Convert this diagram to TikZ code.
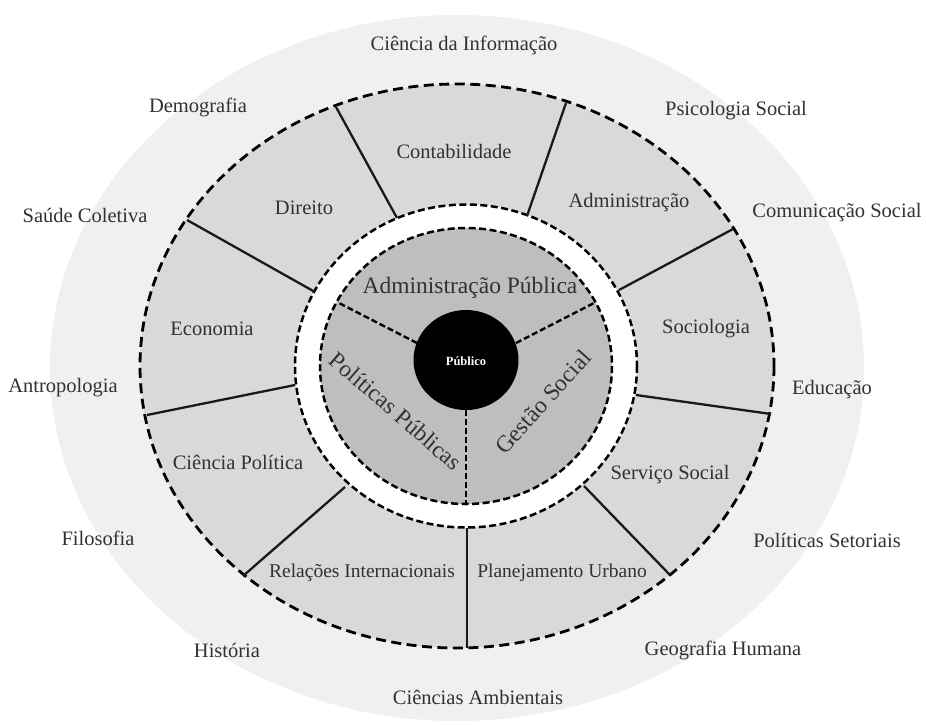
\documentclass[tikz,border=0pt]{standalone}
\usepackage{fontspec}
\setmainfont{Liberation Serif}
\definecolor{outerbg}{RGB}{240,240,240}
\definecolor{sectorbg}{RGB}{217,217,217}
\definecolor{innerbg}{RGB}{190,190,190}
\definecolor{txt}{RGB}{50,50,50}
\begin{document}
\begin{tikzpicture}[x=1pt,y=-1pt,
  bigdash/.style={line width=2.8pt, dash pattern=on 10pt off 5.5pt},
  ringdash/.style={line width=2.5pt, dash pattern=on 7pt off 3.5pt},
  raydash/.style={line width=2.4pt, dash pattern=on 6pt off 3pt},
  divider/.style={line width=2.3pt, black!90},
  outerlbl/.style={text=txt, font=\fontsize{20.5}{24}\selectfont, inner sep=0pt},
  seclbl/.style={text=txt, font=\fontsize{20.5}{24}\selectfont, inner sep=0pt},
  smallsec/.style={text=txt, font=\fontsize{19.5}{23}\selectfont, inner sep=0pt},
  innerlbl/.style={text=txt, font=\fontsize{23.5}{27}\selectfont, inner sep=0pt}]
\useasboundingbox (0,0) rectangle (926,724);
\fill[white] (0,0) rectangle (926,724);
% outer light ellipse
\fill[outerbg] (457,368) ellipse [x radius=407, y radius=353];
% dashed sector ellipse
\filldraw[fill=sectorbg, bigdash] (457,366) ellipse [x radius=317, y radius=282];
% white ring
\filldraw[fill=white, ringdash] (466,366) ellipse [x radius=171, y radius=161.5];
% inner gray disc
\filldraw[fill=innerbg, ringdash] (466,366) ellipse [x radius=146, y radius=138];

% divider endpoints
\coordinate (d1i) at (397,218); \coordinate (d1o) at (336,107);
\coordinate (d2i) at (527,216); \coordinate (d2o) at (566,103);
\coordinate (d3i) at (619,290); \coordinate (d3o) at (733,229);
\coordinate (d4i) at (636,395); \coordinate (d4o) at (771,414);
\coordinate (d5i) at (584,486); \coordinate (d5o) at (670,575);
\coordinate (d6i) at (467,528); \coordinate (d6o) at (467,648);
\coordinate (d7i) at (345,487); \coordinate (d7o) at (243,576);
\coordinate (d8i) at (295,385); \coordinate (d8o) at (147,415);
\coordinate (d9i) at (315,292); \coordinate (d9o) at (187,220);
\foreach \k in {1,...,9}{\draw[divider] (d\k i) -- (d\k o);}

% inner rays
\coordinate (r1i) at (417,343); \coordinate (r1o) at (337,302);
\coordinate (r2i) at (516,343); \coordinate (r2o) at (594,303);
\coordinate (r3i) at (466,410); \coordinate (r3o) at (466,504);
\foreach \k in {1,2,3}{\draw[raydash] (r\k i) -- (r\k o);}

% center
\fill[black] (466,360) ellipse [x radius=52.5, y radius=50];
\node[text=white, font=\fontsize{12.5}{14}\selectfont\bfseries, inner sep=0pt] (pub) at (466,361) {Público};

% inner labels
\node[innerlbl] (admp) at (470,288) {Administração Pública};
\node[innerlbl, rotate=-41] (polp) at (396,411) {Políticas Públicas};
\node[innerlbl, rotate=48] (gest) at (543,402) {Gestão Social};

% sector labels
\node[seclbl] (cont) at (454,151) {Contabilidade};
\node[seclbl] (dir) at (304,208) {Direito};
\node[seclbl] (adm) at (629,203) {Administração};
\node[seclbl] (eco) at (212,329) {Economia};
\node[seclbl] (soc) at (706,329) {Sociologia};
\node[seclbl] (cpol) at (238,462) {Ciência Política};
\node[seclbl] (serv) at (670,475) {Serviço Social};
\node[smallsec] (relint) at (362,573) {Relações Internacionais};
\node[smallsec] (plan) at (562,573) {Planejamento Urbano};

% outer labels
\node[outerlbl] (cinf) at (464,45) {Ciência da Informação};
\node[outerlbl] (demo) at (198,107) {Demografia};
\node[outerlbl] (psic) at (736,111) {Psicologia Social};
\node[outerlbl] (saude) at (85,215) {Saúde Coletiva};
\node[outerlbl] (com) at (837,213) {Comunicação Social};
\node[outerlbl] (antr) at (63,388) {Antropologia};
\node[outerlbl] (edu) at (832,390) {Educação};
\node[outerlbl] (filo) at (98,538) {Filosofia};
\node[outerlbl] (polset) at (827,540) {Políticas Setoriais};
\node[outerlbl] (hist) at (227,650) {História};
\node[outerlbl] (geo) at (723,650) {Geografia Humana};
\node[outerlbl] (camb) at (478,697) {Ciências Ambientais};
\end{tikzpicture}
\end{document}
